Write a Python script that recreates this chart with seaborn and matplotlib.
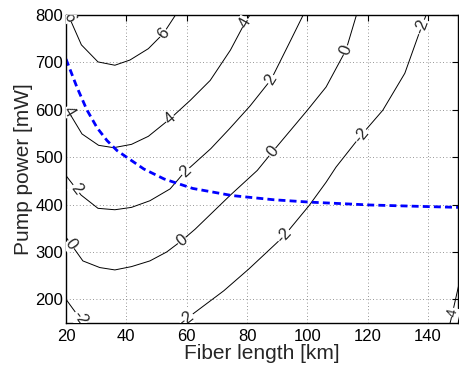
import numpy as np
import pandas as pd
import matplotlib
matplotlib.use("Agg")
import matplotlib.pyplot as plt
import seaborn as sns

# contour lines: fiber length [km] vs pump power [mW]
c6_L = [20.0, 21.5, 25.1, 30.6, 36.2, 41.2, 47.3, 52.3, 56.5]
c6_P = [808, 789, 737, 701, 694, 705, 729, 761, 802]

c4_L = [20.0, 25.3, 30.8, 35.8, 41.7, 47.3, 54.5, 61.2, 67.8, 74.5, 79.5, 81.5]
c4_P = [605, 549, 525, 520, 527, 544, 581, 620, 662, 726, 786, 805]

c2_L = [20.0, 25.0, 30.6, 36.2, 41.7, 47.8, 54.5, 59.5, 61.2, 68.0, 74.2, 81.0, 88.0, 94.5, 99.0]
c2_P = [461, 420, 392, 389, 394, 408, 433, 470, 479, 518, 560, 608, 664, 747, 805]

c0_L = [20.0, 25.6, 31.2, 36.2, 41.7, 47.8, 53.4, 58.4, 62.8, 74.5, 83.4, 88.4,
        100.0, 106.2, 112.8, 116.5]
c0_P = [331, 281, 267, 262, 269, 281, 300, 324, 348, 420, 472, 511,
        599, 648, 726, 805]

cm2_L = [57.8, 61.2, 72.3, 80.6, 89.5, 92.3, 100.6, 106.2, 109.5, 117.8, 125.0,
         132.3, 137.8, 139.7]
cm2_P = [148, 165, 218, 264, 317, 334, 398, 447, 479, 546, 599, 677, 775, 805]

cm2b_L = [20.0, 24.0, 26.0]
cm2b_P = [200, 165, 148]

cm4_L = [147.2, 148.4, 150.6]
cm4_P = [147, 180, 242]

# optimum pump power curve (blue dashed)
opt_L = [20, 23.6, 26.9, 30.3, 33.6, 36.9, 40.3, 45.8, 52.5, 62, 75, 89, 101, 121, 138, 150]
opt_P = [707, 648, 600, 562, 535, 514, 499, 475, 454, 434, 419, 410, 405, 399, 396, 394]

# contour label places: (segment, level text, fiber length)
rotulos = [
    ("c6", "6", 21.0), ("c6", "6", 52.3),
    ("c4", "4", 20.8), ("c4", "4", 54.5), ("c4", "4", 79.3),
    ("c2", "2", 23.4), ("c2", "2", 59.6), ("c2", "2", 88.0),
    ("c0", "0", 21.7), ("c0", "0", 58.4), ("c0", "0", 88.4), ("c0", "0", 112.8),
    ("cm2", "-2", 60.0), ("cm2", "-2", 92.3), ("cm2", "-2", 117.8), ("cm2", "-2", 137.8),
    ("cm2b", "-2", 24.6),
    ("cm4", "-4", 148.0),
]

segmentos = {
    "c6": (c6_L, c6_P), "c4": (c4_L, c4_P), "c2": (c2_L, c2_P),
    "c0": (c0_L, c0_P), "cm2": (cm2_L, cm2_P), "cm2b": (cm2b_L, cm2b_P),
    "cm4": (cm4_L, cm4_P),
}

linhas = pd.concat(
    [pd.DataFrame({"L": l, "P": p, "seg": nome}) for nome, (l, p) in segmentos.items()],
    ignore_index=True,
)
otimo = pd.DataFrame({"L": opt_L, "P": opt_P})

sns.set_style("white")
plt.rcParams["font.family"] = ["Liberation Sans", "DejaVu Sans"]

fig = plt.figure(figsize=(4.59, 3.66), dpi=100)
ax = fig.add_axes([0.1438, 0.1175, 0.8545, 0.8415])

sns.lineplot(data=linhas, x="L", y="P", units="seg", estimator=None, sort=False,
             color="black", lw=0.7, ax=ax)
sns.lineplot(data=otimo, x="L", y="P", color="#0000ff", lw=2.0, ax=ax,
             dashes=False, linestyle=(0, (2.5, 1.5)))

ax.set_xlim(20, 150)
ax.set_ylim(150, 800)
ax.set_xticks([20, 40, 60, 80, 100, 120, 140])
ax.set_yticks([200, 300, 400, 500, 600, 700, 800])
ax.grid(True, linestyle=(0, (1, 3)), color="0.45", lw=0.6)
ax.tick_params(direction="in", top=True, right=True, length=4, width=0.8,
               labelsize=12, colors="black")
ax.tick_params(axis="x", pad=4)
ax.tick_params(axis="y", pad=2)
for sp in ax.spines.values():
    sp.set_color("black")
    sp.set_linewidth(1.0)
ax.set_xlabel("Fiber length [km]", fontsize=15, labelpad=0.5)
ax.set_ylabel("Pump power [mW]", fontsize=15, labelpad=2)

# contour labels along the lines, breaking them with a white box
fig.canvas.draw()
for seg, txt, l0 in rotulos:
    sl, sp_ = segmentos[seg]
    p0 = np.interp(l0, sl, sp_)
    a = ax.transData.transform((l0 - 0.5, np.interp(l0 - 0.5, sl, sp_)))
    b = ax.transData.transform((l0 + 0.5, np.interp(l0 + 0.5, sl, sp_)))
    ang = np.degrees(np.arctan2(b[1] - a[1], b[0] - a[0]))
    if ang > 90:
        ang -= 180
    if ang < -90:
        ang += 180
    interno = txt == "-4"
    ax.text(l0, p0, txt, fontsize=10 if interno else 12, rotation=ang,
            rotation_mode="anchor", ha="center", va="center",
            clip_on=not interno, zorder=5,
            bbox=dict(fc="white", ec="none", pad=0.1 if interno else 0.3))

ax.legend_ = None
fig.savefig("out.png", dpi=100)
